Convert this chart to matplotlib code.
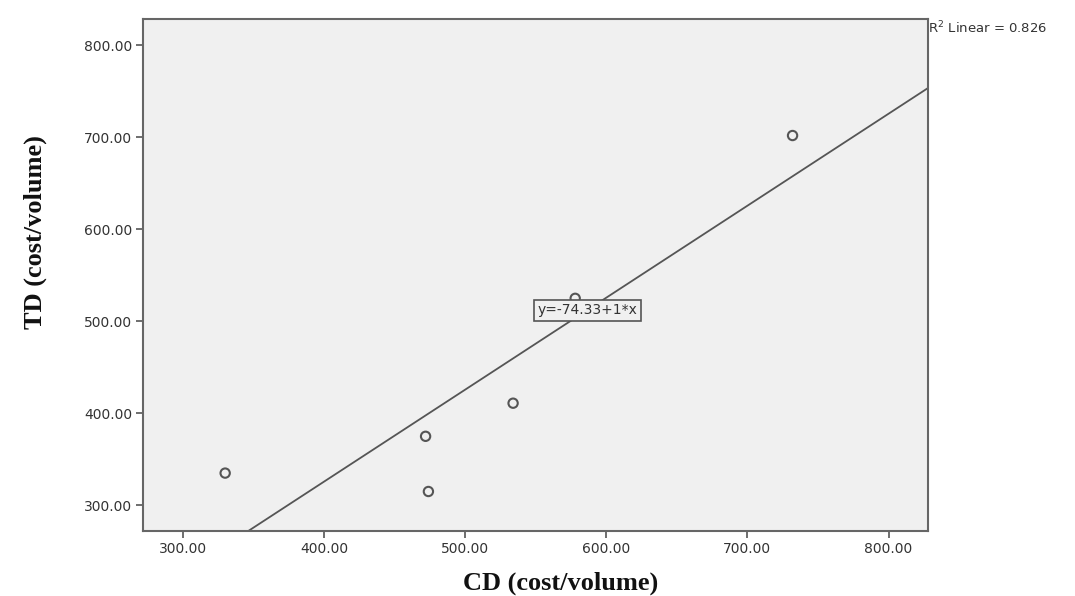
import matplotlib
matplotlib.use("Agg")
import matplotlib.pyplot as plt

# data
cd = [330, 472, 474, 534, 578, 732]
td = [335, 375, 315, 411, 525, 702]
intercept = -74.33
slope = 1.0
r2 = 0.826
xticks = [300, 400, 500, 600, 700, 800]
yticks = [300, 400, 500, 600, 700, 800]

fig = plt.figure(figsize=(10.75, 5.96), dpi=100)
ax = fig.add_axes([0.1333, 0.1096, 0.8633 - 0.1333, 0.968 - 0.1096])
ax.set_facecolor("#f0f0f0")

ax.set_xlim(272, 828)
ax.set_ylim(272.4, 828.6)

ax.axline((0, intercept), slope=slope, color="#555555", lw=1.3, zorder=2)
ax.scatter(cd, td, s=45, facecolors="none", edgecolors="#555555", linewidths=1.5, zorder=3)

ax.text(587, 512, "y=-74.33+1*x", ha="center", va="center", fontsize=10,
        family="DejaVu Sans", color="#333333", zorder=5,
        bbox=dict(boxstyle="square,pad=0.25", fc="#f0f0f0", ec="#555555", lw=1.2))

fig.text(0.8633, 0.953, "R$^2$ Linear = %.3f" % r2, ha="left", va="center",
         fontsize=9.5, family="DejaVu Sans", color="#333333")

ax.set_xticks(xticks)
ax.set_yticks(yticks)
ax.set_xticklabels(["%.2f" % v for v in xticks])
ax.set_yticklabels(["%.2f" % v for v in yticks])
ax.tick_params(axis="both", direction="out", length=5, width=1.2, color="#555555",
               labelsize=10, labelcolor="#333333", pad=3)
for lab in ax.get_xticklabels() + ax.get_yticklabels():
    lab.set_family("DejaVu Sans")

for sp in ax.spines.values():
    sp.set_color("#666666")
    sp.set_linewidth(1.5)

ax.set_xlabel("CD (cost/volume)", family="Liberation Serif", fontweight="bold",
              fontsize=19, color="#111111", va="center")
ax.set_ylabel("TD (cost/volume)", family="Liberation Serif", fontweight="bold",
              fontsize=19, color="#111111", va="center")
ax.xaxis.set_label_coords(0.532, -0.102)
ax.yaxis.set_label_coords(-0.138, 0.584)

fig.savefig("out.png", dpi=100, facecolor="white")
